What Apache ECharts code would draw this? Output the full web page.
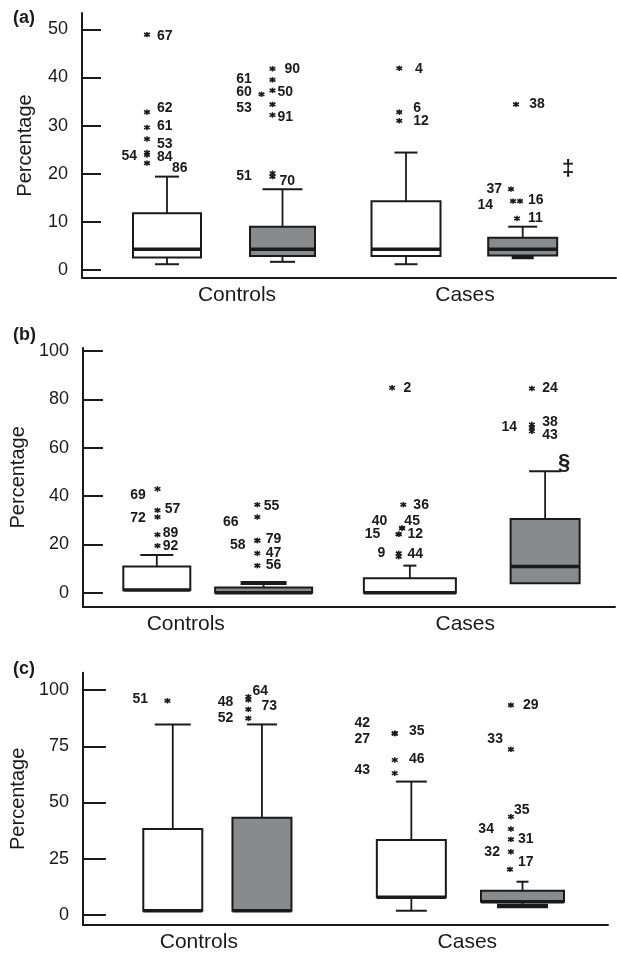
<!DOCTYPE html>
<html>
<head>
<meta charset="utf-8">
<script src="https://cdn.jsdelivr.net/npm/echarts@6/dist/echarts.min.js"></script>
<style>
  html, body { margin: 0; padding: 0; background: #fff; }
  #main { width: 617px; height: 953px; }
</style>
</head>
<body>
<div id="main"></div>
<script>
// group names on the x axis
var groups = ['Controls', 'Cases'];

// box stats per box: [lower whisker, Q1, median, Q3, upper whisker]
// order: controls (white), controls (grey), cases (white), cases (grey)
var boxesA = [
  [1.2, 2.6, 4.3, 11.8, 19.4],
  [1.7, 2.9, 4.3, 9.0, 16.8],
  [1.2, 2.9, 4.3, 14.3, 24.4],
  [2.6, 3.0, 4.3, 6.7, 9.0]
];
var boxesB = [
  [1.1, 1.1, 1.1, 10.8, 15.6],
  [0, 0, 0, 2.2, 4.0],
  [0, 0, 0, 6.0, 11.2],
  [3.9, 3.9, 10.8, 30.5, 50.2]
];
var boxesC = [
  [1.9, 1.9, 1.9, 38.2, 84.7],
  [1.9, 1.9, 1.9, 43.2, 84.7],
  [1.9, 7.9, 7.9, 33.3, 59.3],
  [4.0, 5.9, 5.9, 10.8, 14.8]
];

// outliers: [box, value, case number]
var outliersA = [
  [0, 48.9, '67'], [0, 32.8, '62'], [0, 29.6, '61'], [0, 27.2, '53'],
  [0, 24.4, '54'], [0, 23.9, '84'], [0, 22.2, '86'],
  [1, 41.8, '90'], [1, 39.5, '61'], [1, 37.3, '50'], [1, 36.5, '60'],
  [1, 34.4, '53'], [1, 32.2, '91'], [1, 20.1, '51'], [1, 19.4, '70'],
  [2, 41.9, '4'], [2, 32.8, '6'], [2, 31.0, '12'],
  [3, 34.4, '38'], [3, 16.8, '37'], [3, 14.3, '14'], [3, 14.3, '16'], [3, 10.7, '11']
];
var outliersB = [
  [0, 42.9, '69'], [0, 34.1, '57'], [0, 31.3, '72'], [0, 24.0, '89'], [0, 19.4, '92'],
  [1, 36.4, '55'], [1, 31.3, '66'], [1, 21.6, '79'], [1, 21.6, '58'], [1, 16.3, '47'], [1, 11.2, '56'],
  [2, 84.8, '2'], [2, 36.4, '36'], [2, 26.7, '45'], [2, 26.7, '40'], [2, 24.2, '12'],
  [2, 24.2, '15'], [2, 16.3, '9'], [2, 14.9, '44'],
  [3, 84.5, '24'], [3, 69.6, '38'], [3, 68.2, '14'], [3, 66.8, '43']
];
var outliersC = [
  [0, 95.2, '51'],
  [1, 97.0, '64'], [1, 95.6, '48'], [1, 91.4, '73'], [1, 87.4, '52'],
  [2, 80.7, '35'], [2, 80.7, '42'], [2, 80.7, '27'], [2, 68.9, '46'], [2, 63.0, '43'],
  [3, 93.3, '29'], [3, 73.6, '33'], [3, 43.7, '35'], [3, 38.2, '34'],
  [3, 33.6, '31'], [3, 28.1, '32'], [3, 20.3, '17']
];

// footnote marks: [box, value, symbol]
var notesA = [[3, 20.9, '\u2021']];
var notesB = [[3, 53.5, '\u00a7']];
var notesC = [];

var ticksA = [0, 10, 20, 30, 40, 50];
var ticksB = [0, 20, 40, 60, 80, 100];
var ticksC = [0, 25, 50, 75, 100];

// ---- layout (pixels) ----
var FONT = "'Liberation Sans', Arial, Helvetica, sans-serif";
var INK = '#1a1a1a';
var GREY = '#898a8c';
var fills = ['#ffffff', GREY, '#ffffff', GREY];

var layA = {
  left: 82, width: 534, top: 13, height: 265, yMin: -1.66, yMax: 53.39, tickLen: 19,
  centers: [85, 200.5, 324, 440.7], widths: [68, 65, 69, 69],
  capHi: [24, 40, 23, 29], capLo: [24, 25, 23, 22],
  capHiLw: [2, 2, 2, 2], capLoLw: [2, 2, 2, 3.5],
  groupX: [155, 383],
  // [asterisk dx from box centre, label dx, label dy]
  outPos: [
    [-20, 10, 1.5], [-20, 10, -4], [-20, 10, -1], [-20, 10, 5],
    [-20, -10, 4], [-20, 10, 2], [-20, 25, 5],
    [-10, 12, 0], [-10, -20.7, -1], [-10, 5, 1.6], [-21, -9.7, -2],
    [-10, -20.7, 4], [-10, 5, 2], [-10, -20.7, 3], [-10, 7, 5],
    [-6.7, 15.7, 1], [-6.7, 14, -4], [-6.7, 14, 0],
    [-6.7, 13.3, 0], [-11.7, -9, 0], [-9.7, -20, 4], [-2.7, 8, -1], [-5.7, 11, 0]
  ],
  notePos: [45.3]
};
var layB = {
  left: 82, width: 533, top: 348, height: 258.7, yMin: -5.79, yMax: 101.24, tickLen: 20,
  centers: [74, 181, 327.5, 463], widths: [67, 97, 92, 69],
  capHi: [33, 46, 13, 32], capLo: [0, 0, 0, 0],
  capHiLw: [2, 4, 2, 2], capLoLw: [2, 2, 2, 2],
  groupX: [103, 383],
  outPos: [
    [0.7, -11.7, 5.7], [0.7, 7.3, -1], [0.7, -11.7, 1], [0.7, 5.3, -2], [0.7, 5.3, 0],
    [-6.3, 6.3, 1], [-6.3, -18.7, 5], [-6.3, 8.3, -1], [-6.3, -11.7, 5], [-6.3, 8.3, 0], [-6.3, 8.3, 0],
    [-17.8, 11.3, 0], [-6.5, 10, 0], [-7.8, 2.3, -6.6], [-7.8, -14.7, -6.6], [-11.2, 8.7, 0],
    [-11.2, -18.3, 0], [-11.2, -13.3, 0], [-11.2, 8.7, -2.7],
    [-13.3, 10.3, 0], [-13.3, 10.3, -2], [-13.3, -14.7, -1], [-13.3, 10.3, 4]
  ],
  notePos: [19]
};
var layC = {
  left: 78, width: 530, top: 672.7, height: 252.3, yMin: -4.44, yMax: 107.69, tickLen: 23,
  centers: [90.7, 180.7, 331.5, 443.7], widths: [59, 59, 69, 83],
  capHi: [36, 30, 31, 12], capLo: [0, 0, 31, 51],
  capHiLw: [2, 2, 2, 2], capLoLw: [2, 2, 2, 4.5],
  groupX: [117, 388],
  outPos: [
    [-5.4, -19.3, -2],
    [-13.7, 4, -6], [-13.7, -15, 2], [-13.7, 13, -3], [-13.7, -15, 0],
    [-16.8, 14.3, -2], [-16.8, -24.7, -10], [-16.8, -24.7, 6], [-16.8, 14.3, -1], [-16.8, -24.7, -3],
    [-11.7, 12, 0], [-11.7, -8, -10], [-11.7, 3, -6.7], [-11.7, -17, 0],
    [-11.7, 7, 0], [-11.7, -11, 0], [-12.7, 8, -7.6]
  ],
  notePos: []
};

function line(x1, y1, x2, y2, lw) {
  return { type: 'line', shape: { x1: x1, y1: y1, x2: x2, y2: y2 },
    style: { stroke: INK, lineWidth: lw } };
}

function panel(idx, boxes, outliers, notes, ticks, L) {
  var grid = { left: L.left, top: L.top, width: L.width, height: L.height };
  var xAxis = {
    gridIndex: idx, type: 'value', min: 0, max: L.width,
    axisLine: { show: true, onZero: false, lineStyle: { color: INK, width: 2 } },
    axisTick: { show: false }, splitLine: { show: false },
    axisLabel: {
      customValues: L.groupX, margin: 7, fontSize: 21, color: INK, fontFamily: FONT,
      formatter: function (v) { return groups[L.groupX.indexOf(v)]; }
    }
  };
  var yAxis = {
    gridIndex: idx, type: 'value', min: L.yMin, max: L.yMax,
    name: 'Percentage', nameLocation: 'middle', nameGap: 47,
    nameTextStyle: { fontSize: 20, color: INK, fontFamily: FONT },
    axisLine: { show: true, onZero: false, lineStyle: { color: INK, width: 2 } },
    axisTick: { show: true, inside: true, length: L.tickLen, customValues: ticks,
      lineStyle: { color: INK, width: 2 } },
    axisLabel: { customValues: ticks, fontSize: 18, color: INK, margin: 14, fontFamily: FONT },
    splitLine: { show: false }
  };

  var boxSeries = {
    type: 'custom', xAxisIndex: idx, yAxisIndex: idx,
    data: boxes.map(function (b, i) { return [L.centers[i]].concat(b); }),
    renderItem: function (params, api) {
      var i = params.dataIndex;
      var x = api.value(0);
      var cx = api.coord([x, 0])[0];
      function y(k) { return api.coord([x, api.value(k)])[1]; }
      var yLo = y(1), yQ1 = y(2), yMed = y(3), yQ3 = y(4), yHi = y(5);
      var w = L.widths[i];
      var kids = [];
      if (yHi < yQ3) {
        kids.push(line(cx, yHi, cx, yQ3, 1.8));
        kids.push(line(cx - L.capHi[i] / 2, yHi, cx + L.capHi[i] / 2, yHi, L.capHiLw[i]));
      }
      if (yLo > yQ1) {
        kids.push(line(cx, yQ1, cx, yLo, 1.8));
        kids.push(line(cx - L.capLo[i] / 2, yLo, cx + L.capLo[i] / 2, yLo, L.capLoLw[i]));
      }
      kids.push({ type: 'rect', shape: { x: cx - w / 2, y: yQ3, width: w, height: yQ1 - yQ3 },
        style: { fill: fills[i], stroke: INK, lineWidth: 2 } });
      kids.push(line(cx - w / 2, yMed, cx + w / 2, yMed, 3.5));
      return { type: 'group', children: kids };
    }
  };

  var outSeries = {
    type: 'custom', xAxisIndex: idx, yAxisIndex: idx,
    data: outliers.map(function (o, j) { return [L.centers[o[0]] + L.outPos[j][0], o[1]]; }),
    renderItem: function (params, api) {
      var j = params.dataIndex;
      var p = api.coord([api.value(0), api.value(1)]);
      var lp = L.outPos[j];
      return { type: 'group', children: [
        line(p[0], p[1] - 2.7, p[0], p[1] + 2.7, 1.6),
        line(p[0] - 2.9, p[1] - 1.6, p[0] + 2.9, p[1] + 1.6, 1.6),
        line(p[0] - 2.9, p[1] + 1.6, p[0] + 2.9, p[1] - 1.6, 1.6),
        { type: 'text', style: {
          text: outliers[j][2], x: p[0] + lp[1], y: p[1] + lp[2],
          align: lp[1] >= 0 ? 'left' : 'right', verticalAlign: 'middle',
          font: 'bold 14px ' + FONT, fill: INK } }
      ] };
    }
  };

  var noteSeries = {
    type: 'custom', xAxisIndex: idx, yAxisIndex: idx,
    data: notes.map(function (n, j) { return [L.centers[n[0]] + L.notePos[j], n[1]]; }),
    renderItem: function (params, api) {
      var p = api.coord([api.value(0), api.value(1)]);
      return { type: 'text', style: {
        text: notes[params.dataIndex][2], x: p[0], y: p[1],
        align: 'center', verticalAlign: 'middle',
        font: 'bold 22px ' + FONT, fill: INK } };
    }
  };

  return { grid: grid, xAxis: xAxis, yAxis: yAxis, series: [boxSeries, outSeries, noteSeries] };
}

var pa = panel(0, boxesA, outliersA, notesA, ticksA, layA);
var pb = panel(1, boxesB, outliersB, notesB, ticksB, layB);
var pc = panel(2, boxesC, outliersC, notesC, ticksC, layC);

var chartDom = document.getElementById('main');
var myChart = echarts.init(chartDom);
var option;

option = {
  animation: false,
  grid: [pa.grid, pb.grid, pc.grid],
  xAxis: [pa.xAxis, pb.xAxis, pc.xAxis],
  yAxis: [pa.yAxis, pb.yAxis, pc.yAxis],
  series: pa.series.concat(pb.series, pc.series),
  graphic: [
    { type: 'text', left: 13, top: 9, style: { text: '(a)', font: 'bold 18px ' + FONT, fill: INK } },
    { type: 'text', left: 13, top: 326, style: { text: '(b)', font: 'bold 18px ' + FONT, fill: INK } },
    { type: 'text', left: 13, top: 660, style: { text: '(c)', font: 'bold 18px ' + FONT, fill: INK } }
  ]
};

option && myChart.setOption(option);
</script>
</body>
</html>
